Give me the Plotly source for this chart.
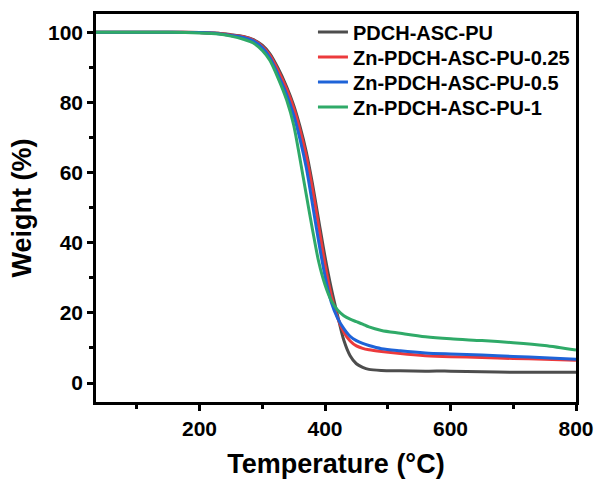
import plotly.graph_objects as go

temperature = [35, 100, 150, 200, 230, 250, 270, 285, 300, 312, 325, 339, 350, 360, 370, 380, 390, 400,
               410, 420, 430, 440, 450, 460, 470, 490, 520, 560, 600, 650, 700, 750, 800]

pdch = [100, 100, 100, 99.9, 99.7, 99.3, 98.8, 98.0, 96.3, 93.9, 89.8, 84.4, 79.2, 73.2, 66, 56.8, 46.3, 36,
        27, 19.3, 12.2, 7.8, 5.5, 4.5, 3.9, 3.6, 3.5, 3.4, 3.4, 3.2, 3.1, 3.1, 3.1]
zn025 = [100, 100, 100, 99.9, 99.7, 99.2, 98.7, 97.8, 96.0, 93.5, 89.2, 83.7, 78.4, 72.2, 64.8, 55.3, 44.5, 33.8,
         25, 18.6, 14.5, 12, 10.6, 9.9, 9.5, 9.0, 8.4, 7.8, 7.5, 7.3, 7.0, 6.8, 6.5]
zn05 = [100, 100, 100, 99.9, 99.6, 99.1, 98.5, 97.6, 95.6, 92.8, 88.0, 82.2, 76.4, 69.6, 61.5, 51, 40.2, 30.5,
        23, 18.5, 15.5, 13.3, 12.1, 11.3, 10.7, 9.8, 9.2, 8.6, 8.3, 8.0, 7.6, 7.2, 6.8]
zn1 = [100, 100, 100, 99.8, 99.5, 98.9, 98.0, 97.0, 94.8, 92.0, 87.0, 80.6, 73.6, 64.0, 53.8, 43.8, 34.5, 28,
       23.5, 20.8, 19.2, 18.2, 17.5, 16.8, 16.0, 15.0, 14.2, 13.2, 12.6, 12.1, 11.5, 10.7, 9.4]

names = ["PDCH-ASC-PU", "Zn-PDCH-ASC-PU-0.25", "Zn-PDCH-ASC-PU-0.5", "Zn-PDCH-ASC-PU-1"]
colors = ["#4d4d4d", "#ec3a3c", "#1e63d8", "#2faa68"]
series = [pdch, zn025, zn05, zn1]
legend_ids = ["legend", "legend2", "legend3", "legend4"]

fig = go.Figure()
for nm, col, ys, lg in zip(names, colors, series, legend_ids):
    fig.add_trace(go.Scatter(x=temperature, y=ys, mode="lines", name=nm, legend=lg,
                             line=dict(color=col, width=3, shape="spline", smoothing=0.8)))

font_family = "Liberation Sans, Arial, sans-serif"
axis_common = dict(showline=True, linecolor="black", linewidth=2.5, mirror=True,
                   ticks="outside", ticklen=6, tickwidth=2.5, tickcolor="black",
                   showgrid=False, zeroline=False, automargin=False,
                   tickfont=dict(family=font_family, size=21, color="black", weight="bold"))

legend_font = dict(family=font_family, size=20, color="black", weight="bold")
row_px = [32, 57, 82, 107]
plot_top, plot_bottom = 14, 402
layout_legends = {}
for lg, py in zip(legend_ids, row_px):
    layout_legends[lg] = dict(x=0.452, y=(plot_bottom - py) / (plot_bottom - plot_top),
                              xanchor="left", yanchor="middle", bgcolor="rgba(0,0,0,0)",
                              font=legend_font, itemwidth=30)

fig.update_layout(
    width=597, height=479,
    margin=dict(l=96, r=21, t=14, b=77, autoexpand=False),
    paper_bgcolor="white", plot_bgcolor="white",
    font=dict(family=font_family, color="black"),
    xaxis=dict(range=[35, 800], tickvals=[200, 400, 600, 800],
               minor=dict(tickvals=[100, 300, 500, 700], ticks="outside", ticklen=4,
                          tickwidth=2.5, tickcolor="black"),
               title=dict(text="<b>Temperature (°C)</b>", font=dict(size=27, family=font_family), standoff=18),
               **axis_common),
    yaxis=dict(range=[-5.4, 105.2], tickvals=[0, 20, 40, 60, 80, 100],
               minor=dict(tickvals=[10, 30, 50, 70, 90], ticks="outside", ticklen=4,
                          tickwidth=2.5, tickcolor="black"),
               title=dict(text="<b>Weight (%)</b>", font=dict(size=27, family=font_family), standoff=9),
               **axis_common),
    showlegend=True,
    **layout_legends,
)

fig.write_html("out.html")
